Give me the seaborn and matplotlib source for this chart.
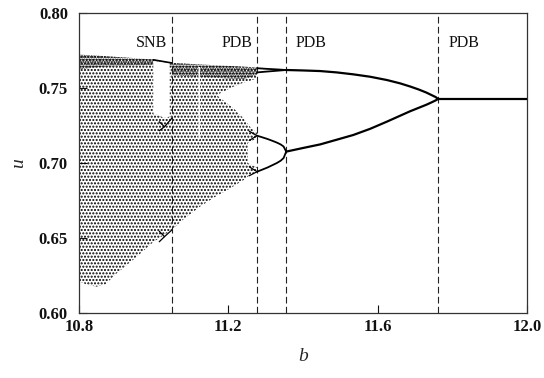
import numpy as np
import pandas as pd
import matplotlib
matplotlib.use("Agg")
import matplotlib.pyplot as plt
import seaborn as sns

# ---------------- data ----------------
crit_b = [11.0485, 11.277, 11.355, 11.762]
crit_labels = ["SNB", "PDB", "PDB", "PDB"]
label_b = [10.993, 11.223, 11.422, 11.832]

# chaotic region left of the SNB line
chaosA_b = [10.80, 10.82, 10.847, 10.87, 10.90, 10.95, 11.00, 11.0485]
chaosA_top = [0.7722, 0.7720, 0.7716, 0.7712, 0.7707, 0.7699, 0.7690, 0.7667]
chaosA_bot = [0.6212, 0.6190, 0.6175, 0.6190, 0.6262, 0.6365, 0.6475, 0.6553]
denseA_bot = [0.7625, 0.7630, 0.7638, 0.7643, 0.7646, 0.7650, 0.7655, 0.7640]

# periodic window gap (upper part)
gap_b = [10.999, 11.010, 11.020, 11.030, 11.043]
gap_top = [0.7680, 0.7678, 0.7675, 0.7672, 0.7668]
gap_bot = [0.7330, 0.7320, 0.7310, 0.7300, 0.7310]

# chaotic region between SNB and first PDB
chaosB_b = [11.0485, 11.08, 11.124, 11.165, 11.205, 11.24, 11.258, 11.277]
chaosB_top = [0.7667, 0.7663, 0.7657, 0.7652, 0.7647, 0.7642, 0.7640, 0.7636]
chaosB_bot = [0.6553, 0.6625, 0.6709, 0.6775, 0.6831, 0.6885, 0.6920, 0.6942]
denseB_bot = [0.7585, 0.7580, 0.7575, 0.7568, 0.7562, 0.7560, 0.7570, 0.7590]

# empty region between the two chaotic bands
hole_b = [11.169, 11.19, 11.214, 11.24, 11.26, 11.277]
hole_top = [0.7453, 0.7480, 0.7509, 0.7535, 0.7550, 0.7565]
hole_bot = [0.7453, 0.7410, 0.7364, 0.7300, 0.7235, 0.7200]

# small window streak
streak_b = [11.120, 11.124]
streak_top = [0.7640, 0.7640]
streak_bot = [0.7150, 0.7160]

# gap between period-8 forks
fork_gap_b = [11.252, 11.277]
fork_gap_top = [0.7135, 0.7165]
fork_gap_bot = [0.7000, 0.6970]

# period-1
p1_b = [11.762, 12.0]
p1_u = [0.7427, 0.7427]

# period-2
p2_b = [11.355, 11.40, 11.446, 11.49, 11.535, 11.58, 11.625, 11.66, 11.687, 11.71, 11.73, 11.745, 11.755, 11.762]
p2_up = [0.7620, 0.7617, 0.7613, 0.7604, 0.7591, 0.7575, 0.7553, 0.7531, 0.7510, 0.7490, 0.7470, 0.7452, 0.7440, 0.7427]
p2_lo = [0.7076, 0.7100, 0.7124, 0.7155, 0.7187, 0.7228, 0.7276, 0.7315, 0.7345, 0.7368, 0.7388, 0.7405, 0.7417, 0.7427]

# period-4
p4_b = [11.277, 11.29, 11.305, 11.32, 11.33, 11.34, 11.348, 11.355]
p4_a = [0.7182, 0.7172, 0.7160, 0.7146, 0.7136, 0.7124, 0.7110, 0.7076]
p4_b_ = [0.6942, 0.6955, 0.6970, 0.6988, 0.7000, 0.7015, 0.7033, 0.7076]
p4t_b = [11.277, 11.30, 11.33, 11.355]
p4t_a = [0.7632, 0.7628, 0.7624, 0.7620]
p4t_b_ = [0.7604, 0.7609, 0.7615, 0.7620]

# period-8 forks left of first PDB
p8_b = [11.256, 11.277]
p8_1 = [0.7212, 0.7182]
p8_2 = [0.7150, 0.7182]
p8_3 = [0.6975, 0.6942]
p8_4 = [0.6915, 0.6942]

# period-3 window branches
w_top_b = [10.999, 11.0485]
w_top_u = [0.7688, 0.7667]
w_mid_b = [11.015, 11.029, 11.0485]
w_mid_a = [0.7275, 0.7242, 0.7298]
w_mid_b2 = [11.015, 11.029]
w_mid_c = [0.7215, 0.7242]
w_low_b = [11.015, 11.029, 11.0485]
w_low_a = [0.6545, 0.6509, 0.6553]
w_low_b2 = [11.015, 11.029]
w_low_c = [0.6475, 0.6509]

# ---------------- plotting ----------------
sns.set_theme(style="ticks")
plt.rcParams["font.family"] = ["Liberation Serif", "DejaVu Serif"]
plt.rcParams["hatch.linewidth"] = 1.0
plt.rcParams["hatch.color"] = "black"

fig = plt.figure(figsize=(5.44, 3.78), dpi=100)
ax = fig.add_axes([79 / 544, 1 - 313 / 378, 448 / 544, 300 / 378])

def hatch_fill(b, top, bot, pat):
    ax.fill_between(b, bot, top, facecolor="none", edgecolor="black",
                    linewidth=0, hatch=pat, zorder=1)

def white_fill(b, top, bot):
    ax.fill_between(b, bot, top, facecolor="white", edgecolor="none",
                    linewidth=0, zorder=2)

hatch_fill(chaosA_b, chaosA_top, chaosA_bot, ".....")
hatch_fill(chaosA_b, chaosA_top, denseA_bot, ".......")
hatch_fill(chaosB_b, chaosB_top, chaosB_bot, ".....")
hatch_fill(chaosB_b, chaosB_top, denseB_bot, ".......")
white_fill(gap_b, gap_top, gap_bot)
white_fill(hole_b, hole_top, hole_bot)
white_fill(streak_b, streak_top, streak_bot)
white_fill(fork_gap_b, fork_gap_top, fork_gap_bot)

def branch(b, u, lw=1.6):
    sns.lineplot(x=b, y=u, color="black", lw=lw, ax=ax, sort=False,
                 estimator=None, zorder=4)

branch(p1_b, p1_u)
branch(p2_b, p2_up)
branch(p2_b, p2_lo)
branch(p4_b, p4_a, 1.3)
branch(p4_b, p4_b_, 1.3)
branch(p4t_b, p4t_a, 1.3)
branch(p4t_b, p4t_b_, 1.3)
for arr in (p8_1, p8_2, p8_3, p8_4):
    branch(p8_b, arr, 0.9)
branch(w_top_b, w_top_u, 1.2)
branch(w_mid_b, w_mid_a, 0.9)
branch(w_mid_b2, w_mid_c, 0.9)
branch(w_low_b, w_low_a, 0.9)
branch(w_low_b2, w_low_c, 0.9)

for xb in crit_b:
    ax.axvline(xb, color="#222222", lw=0.8, ls=(0, (6, 3)), zorder=3)
for xb, lab in zip(label_b, crit_labels):
    ax.text(xb, 0.7798, lab, ha="center", va="center", fontsize=11.5,
            color="#111111", zorder=5)

ax.set_xlim(10.8, 12.0)
ax.set_ylim(0.60, 0.80)
ax.set_xticks([10.8, 11.2, 11.6, 12.0])
ax.set_xticklabels(["10.8", "11.2", "11.6", "12.0"])
ax.set_yticks([0.60, 0.65, 0.70, 0.75, 0.80])
ax.set_yticklabels(["0.60", "0.65", "0.70", "0.75", "0.80"])
ax.tick_params(direction="in", length=6, width=0.8, labelsize=12, pad=4,
               colors="#111111")
ax.tick_params(axis="y", pad=8)
for lab in ax.get_xticklabels() + ax.get_yticklabels():
    lab.set_fontweight("bold")
for sp in ax.spines.values():
    sp.set_visible(True)
    sp.set_linewidth(0.9)
    sp.set_color("#333333")

ax.set_xlabel("b", fontsize=14, style="italic", labelpad=10)
ax.set_ylabel("u", fontsize=14, style="italic", labelpad=8)

fig.savefig("out.png", dpi=100)
